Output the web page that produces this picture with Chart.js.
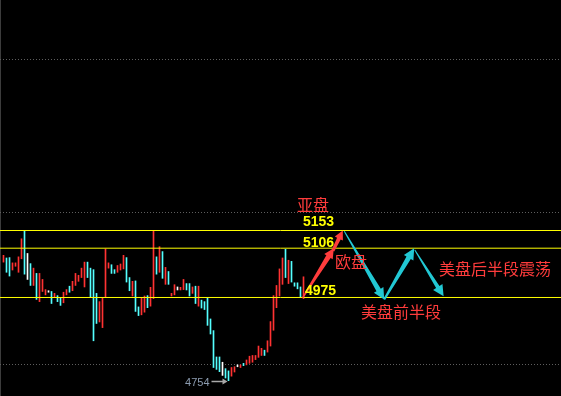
<!DOCTYPE html>
<html>
<head>
<meta charset="utf-8">
<script src="https://cdn.jsdelivr.net/npm/chart.js@4/dist/chart.umd.min.js"></script>
<style>
  html, body { margin: 0; padding: 0; background: #000; }
  #wrap { width: 561px; height: 396px; }
</style>
</head>
<body>
<div id="wrap"><canvas id="c" width="561" height="396"></canvas></div>
<script>
// Candle ranges (high / low) and direction: 1 = up (red), -1 = down (cyan), 0 = flat (white)
const highs = [5087,5080,5081,5067,5067,5083,5131,5153,5092,5065,5053,5039,5039,5023,4996,4993,4991,4986,4980,4975,
               4989,4996,5005,5018,5039,5034,5053,5069,5069,5053,5049,4986,4964,4975,5104,5067,5062,5049,5060,5064,
               5087,5081,5028,5018,5019,4950,4973,4979,4980,5002,5152,5083,5110,5097,5055,5044,4986,5009,5003,5002,
               5023,5012,5012,5003,5005,5005,4968,4964,4973,4918,4887,4817,4817,4803,4786,4780,4789,4791,4796,4796,
               4800,4809,4819,4821,4821,4846,4840,4835,4860,4911,4980,5007,5051,5080,5103,5074,5071,5014,5014,5003,5030];
const lows  = [5069,5042,5032,5048,5058,5042,5078,5037,5023,5007,5007,4970,4964,4991,4982,4989,4959,4975,4964,4954,
               4961,4982,4989,4993,5007,5018,5028,5003,5028,4975,4860,4906,4910,4895,4975,5053,5039,5039,5042,5048,
               5051,5016,4993,4979,4938,4927,4929,4936,4948,4952,4972,5037,5042,5026,5010,5010,4979,4982,4995,4995,
               4996,4995,4979,4986,4959,4952,4947,4943,4901,4878,4789,4784,4778,4768,4761,4754,4766,4777,4791,4789,
               4794,4796,4800,4803,4810,4816,4821,4821,4830,4846,4888,4948,4979,5010,5028,5012,5016,5005,4998,4975,4972];
const moves = [1,-1,-1,1,1,1,1,-1,0,-1,1,-1,1,1,1,0,-1,1,-1,-1,
               1,1,-1,1,1,1,1,1,-1,-1,-1,-1,1,1,1,1,-1,-1,1,1,
               1,-1,-1,1,-1,-1,1,1,-1,1,1,-1,1,-1,1,-1,1,1,0,1,
               1,-1,-1,1,-1,1,-1,-1,-1,-1,-1,-1,-1,0,-1,-1,1,1,0,1,
               -1,1,1,1,1,1,1,-1,1,1,1,1,1,1,-1,1,-1,-1,-1,-1,1];

// Key price levels drawn as horizontal lines and labelled with their value
const levels = [5153, 5106, 4975];
// Dotted background grid levels
const gridLevels = [4798, 5202, 5607];
// Session names
const sessionNames = ['亚盘', '欧盘', '美盘前半段', '美盘后半段震荡'];

// Projected path: [bar index, price] pairs
const redPath  = [[[99.7, 4974], [110.1, 5106]], [[109.8, 5099], [113.1, 5153]]];
const cyanPath = [[[113.6, 5151], [126.9, 4970]], [[126.9, 4970], [136.9, 5106]], [[137.1, 5101], [146.7, 4978]]];

const UP = '#ff3232', DOWN = '#54ffff', FLAT = '#ffffff';
const TEXT_RED = '#ff3c3c', ARROW_CYAN = '#22c8d4', LEVEL = '#ffff00';

const X_MIN = -3.5 / 3, X_MAX = X_MIN + 561 / 3;
const Y_MAX = 5765.4, Y_MIN = 4713.3;

const candleData = highs.map((h, i) => ({ x: i, y: [lows[i], h] }));
const candleColors = moves.map(m => m > 0 ? UP : (m < 0 ? DOWN : FLAT));

const levelSets = levels.map(v => ({
  type: 'line',
  data: [{ x: X_MIN, y: v }, { x: X_MAX, y: v }],
  borderColor: LEVEL,
  borderWidth: 1,
  pointRadius: 0,
  order: 0
}));

function drawArrow(ctx, p0, p1, w0, w1, headLen, headW, color) {
  const dx = p1.x - p0.x, dy = p1.y - p0.y;
  const len = Math.hypot(dx, dy);
  const ux = dx / len, uy = dy / len;
  const nx = -uy, ny = ux;
  const bx = p1.x - ux * headLen, by = p1.y - uy * headLen;
  ctx.fillStyle = color;
  ctx.beginPath();
  ctx.moveTo(p0.x + nx * w0 / 2, p0.y + ny * w0 / 2);
  ctx.lineTo(bx + nx * w1 / 2, by + ny * w1 / 2);
  ctx.lineTo(bx + nx * headW / 2, by + ny * headW / 2);
  ctx.lineTo(p1.x, p1.y);
  ctx.lineTo(bx - nx * headW / 2, by - ny * headW / 2);
  ctx.lineTo(bx - nx * w1 / 2, by - ny * w1 / 2);
  ctx.lineTo(p0.x - nx * w0 / 2, p0.y - ny * w0 / 2);
  ctx.closePath();
  ctx.fill();
}

const backdrop = {
  id: 'backdrop',
  beforeDraw(chart) {
    const ctx = chart.ctx;
    ctx.save();
    ctx.fillStyle = '#000';
    ctx.fillRect(0, 0, chart.width, chart.height);
    ctx.fillStyle = '#3c3c3c';
    ctx.fillRect(0, 0, 1, chart.height);
    ctx.restore();
  }
};

const overlay = {
  id: 'overlay',
  afterDatasetsDraw(chart) {
    const ctx = chart.ctx;
    const xs = chart.scales.x, ys = chart.scales.y;
    const P = (pt) => ({ x: xs.getPixelForValue(pt[0]), y: ys.getPixelForValue(pt[1]) });
    ctx.save();

    // Projected moves
    drawArrow(ctx, P(redPath[0][0]), P(redPath[0][1]), 1.5, 5, 10, 10, TEXT_RED);
    drawArrow(ctx, P(redPath[1][0]), P(redPath[1][1]), 3, 4, 9, 9, TEXT_RED);
    drawArrow(ctx, P(cyanPath[0][0]), P(cyanPath[0][1]), 1, 5, 11, 11, ARROW_CYAN);
    drawArrow(ctx, P(cyanPath[1][0]), P(cyanPath[1][1]), 2, 5, 11, 11, ARROW_CYAN);
    drawArrow(ctx, P(cyanPath[2][0]), P(cyanPath[2][1]), 1, 4, 11, 11, ARROW_CYAN);

    // Level values
    ctx.font = 'bold 14px "Liberation Sans", Arial, sans-serif';
    ctx.fillStyle = LEVEL;
    ctx.textAlign = 'left';
    ctx.textBaseline = 'middle';
    const levelLift = [-8, -5, -6];
    const levelX = [99.8, 99.8, 100.5];
    levels.forEach((v, i) => {
      ctx.fillText(String(v), xs.getPixelForValue(levelX[i]), ys.getPixelForValue(v) + levelLift[i]);
    });

    // Session labels
    ctx.font = '16px "Noto Sans CJK SC", sans-serif';
    ctx.fillStyle = TEXT_RED;
    const labelAt = [[97.8, 5221], [110.5, 5069], [119.2, 4937], [145.2, 5051]];
    sessionNames.forEach((t, i) => {
      const p = P(labelAt[i]);
      ctx.fillText(t, p.x, p.y);
    });

    // Lowest low marker
    let lo = 0;
    lows.forEach((v, i) => { if (v < lows[lo]) lo = i; });
    const lx = xs.getPixelForValue(lo), ly = Math.round(ys.getPixelForValue(lows[lo])) + 0.5;
    ctx.strokeStyle = '#a8a8a8';
    ctx.fillStyle = '#a8a8a8';
    ctx.lineWidth = 1.5;
    ctx.beginPath();
    ctx.moveTo(lx - 17, ly);
    ctx.lineTo(lx - 5, ly);
    ctx.stroke();
    ctx.beginPath();
    ctx.moveTo(lx - 1, ly);
    ctx.lineTo(lx - 6, ly - 3);
    ctx.lineTo(lx - 6, ly + 3);
    ctx.closePath();
    ctx.fill();
    ctx.font = '11px "Liberation Sans", Arial, sans-serif';
    ctx.fillStyle = '#8c9cb0';
    ctx.textAlign = 'right';
    ctx.fillText(String(lows[lo]), lx - 19, ly + 1);

    ctx.restore();
  }
};

new Chart(document.getElementById('c'), {
  type: 'bar',
  data: {
    datasets: [
      {
        type: 'bar',
        data: candleData,
        backgroundColor: candleColors,
        borderWidth: 0,
        barThickness: 1,
        grouped: false,
        order: 1
      },
      ...levelSets
    ]
  },
  options: {
    responsive: false,
    animation: false,
    events: [],
    layout: { padding: 0 },
    plugins: { legend: { display: false }, tooltip: { enabled: false } },
    scales: {
      x: {
        type: 'linear',
        min: X_MIN,
        max: X_MAX,
        offset: false,
        display: false
      },
      y: {
        type: 'linear',
        min: Y_MIN,
        max: Y_MAX,
        position: 'left',
        afterBuildTicks(scale) {
          scale.ticks = gridLevels.map(v => ({ value: v }));
        },
        ticks: { display: false },
        border: { display: false, dash: [1, 2] },
        grid: { color: '#5e5e5e', lineWidth: 1, drawTicks: false }
      }
    }
  },
  plugins: [backdrop, overlay]
});
</script>
</body>
</html>
